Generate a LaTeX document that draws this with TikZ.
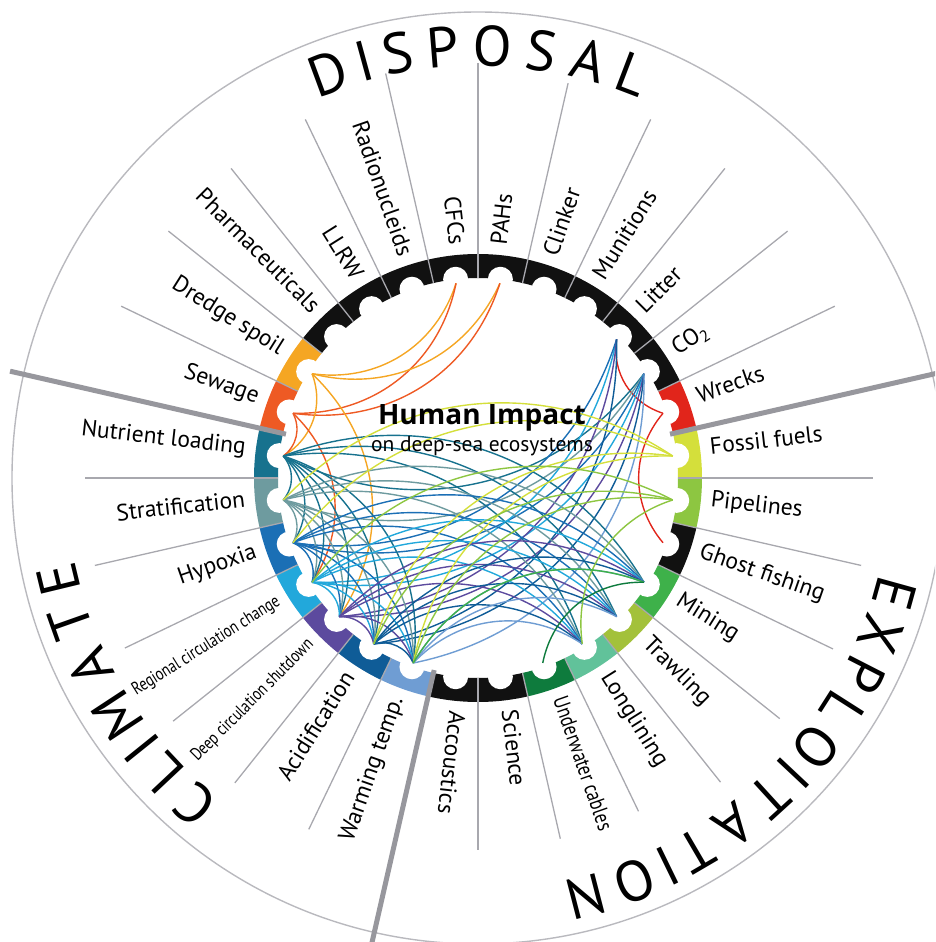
\documentclass[tikz,border=0pt]{standalone}
\usepackage{fontspec}
\setmainfont{PT Sans}
\newfontfamily\narrowfont[FakeStretch=0.8]{PT Sans}
\newfontfamily\titlefont{Open Sans}
\usetikzlibrary{calc}

\definecolor{fossil}{HTML}{D4DF3B}
\definecolor{wreck}{HTML}{E1251B}
\definecolor{dredge}{HTML}{F5A623}
\definecolor{sewage}{HTML}{EE5A24}
\definecolor{nutrient}{HTML}{17728E}
\definecolor{strat}{HTML}{6E9B9F}
\definecolor{hypoxia}{HTML}{1B6FB5}
\definecolor{regional}{HTML}{22A8DB}
\definecolor{deep}{HTML}{5C4A9E}
\definecolor{acid}{HTML}{0F5C97}
\definecolor{warming}{HTML}{6F9DD3}
\definecolor{cables}{HTML}{0E7B3D}
\definecolor{longline}{HTML}{61C29A}
\definecolor{trawl}{HTML}{A3C13B}
\definecolor{mining}{HTML}{3EB14A}
\definecolor{pipe}{HTML}{8DC641}
\definecolor{ringblack}{HTML}{111111}
\definecolor{spokegray}{HTML}{A8A8AE}

\newcommand\narrowtxt[2][18]{{\narrowfont\fontsize{#1}{#1}\selectfont #2}}

\begin{document}
\begin{tikzpicture}[x=1pt, y=1pt,
  spoke/.style={draw=spokegray, line width=1.3pt},
  divider/.style={draw=spokegray!90!black, line width=5pt},
  itemtxt/.style={font=\fontsize{23.5}{26}\selectfont, inner sep=0pt},
  bigtxt/.style={font=\fontsize{57}{60}\selectfont, inner sep=0pt, anchor=base},
  link/.style={line width=1.4pt}]
  \useasboundingbox (-478,-464) rectangle (457,478);
  \clip (-478,-464) rectangle (457,478);
  \def\segw{12.857143}
  \def\rin{200}
  \def\rout{224}
  \coordinate (O) at (0,0);

  % outer circle
  \draw[spokegray!80, line width=1.4pt] (O) circle[radius=466];

  % coloured ring, one sector per impact
  \foreach \col [count=\i from 0] in {fossil,wreck,ringblack,ringblack,ringblack,ringblack,ringblack,ringblack,ringblack,ringblack,ringblack,dredge,sewage,nutrient,strat,hypoxia,regional,deep,acid,warming,ringblack,ringblack,cables,longline,trawl,mining,ringblack,pipe}
    \fill[\col] ({\i*\segw}:\rin) arc[start angle={\i*\segw}, end angle={(\i+1)*\segw}, radius=\rin]
      -- ({(\i+1)*\segw}:\rout) arc[start angle={(\i+1)*\segw}, end angle={\i*\segw}, radius=\rout] -- cycle;
  \foreach \i in {0,...,27} {
    \fill[white] ({(\i+.5)*\segw}:\rin) circle[radius=12.5];
    \coordinate (p\i) at ({(\i+.5)*\segw}:196);
  }

  % spokes and sector dividers
  \foreach \k/\r in {0/395,2/396,3/396,4/396,5/398,6/405,7/415,8/415,9/398,10/396,11/396,12/396,14/393,15/393,16/392,17/390,18/390,19/390,21/372,22/370,23/370,24/389,25/386,26/394,27/393}
    \draw[spoke] ({\k*\segw}:\rin) -- ({\k*\segw}:\r);
  \foreach \k in {1,13,20}
    \draw[divider] ({\k*\segw}:197) -- ({\k*\segw}:480);

  % links
  \foreach \a/\b/\col in {7/11/dredge,7/12/sewage,6/11/dredge,6/12/sewage,11/13/dredge,12/13/sewage,11/17/dredge,12/16/sewage,
    1/3/wreck,26/1/wreck,
    2/13/nutrient,2/14/strat,2/15/hypoxia,2/16/regional,2/17/deep,2/18/acid,2/19/warming,3/16/regional,3/15/hypoxia,3/17/deep,3/18/acid,
    13/14/nutrient,13/15/nutrient,13/16/nutrient,13/17/nutrient,13/18/nutrient,13/19/nutrient,
    14/15/strat,14/16/strat,14/17/strat,14/18/strat,14/19/strat,15/16/hypoxia,15/17/hypoxia,15/18/hypoxia,15/19/hypoxia,
    16/17/regional,16/18/regional,16/19/regional,17/18/deep,17/19/deep,18/19/acid,
    13/23/nutrient,13/24/nutrient,13/25/nutrient,14/23/strat,14/24/strat,14/25/strat,
    15/23/hypoxia,15/24/hypoxia,15/25/hypoxia,16/23/regional,16/24/regional,16/25/regional,
    17/23/deep,17/24/deep,17/25/deep,18/23/acid,18/24/acid,18/25/acid,19/23/warming,19/24/warming,19/25/warming,
    15/0/fossil,14/0/fossil,18/0/fossil,19/0/fossil,19/27/pipe,18/27/pipe,16/27/pipe,23/27/pipe,19/25/mining,22/25/cables}
    \draw[link, \col] (p\a) to[bend left=40] (p\b);

  % title
  \node[anchor=base, font=\titlefont\fontsize{28}{30}\selectfont\bfseries] (title) at (4,53) {Human Impact};
  \node[anchor=base, font=\fontsize{21.5}{23}\selectfont] (subtitle) at (4,26) {on deep-sea ecosystems};

  % impact labels
  \foreach \i/\txt in {0/Fossil fuels,1/Wrecks,2/CO\textsubscript{2},3/Litter,4/Munitions,5/Clinker,6/PAHs,20/Accoustics,21/Science,22/\narrowtxt[22]{Underwater cables},23/Longlining,24/Trawling,25/Mining,26/Ghost fishing,27/Pipelines}
    \node[itemtxt, anchor=mid west, rotate={(\i+.5)*\segw}] (l\i) at ({(\i+.5)*\segw}:234) {\txt};
  \foreach \i/\txt in {7/CFCs,8/Radionucleids,9/LLRW,10/Pharmaceuticals,11/Dredge spoil,12/Sewage,13/Nutrient loading,14/Stratification,15/Hypoxia,16/\narrowtxt{Regional circulation change},17/\narrowtxt{Deep circulation shutdown},18/Acidification,19/Warming temp.}
    \node[itemtxt, anchor=mid east, rotate={(\i+.5)*\segw-180}] (l\i) at ({(\i+.5)*\segw}:234) {\txt};

  % sector names
  \foreach \a/\ch [count=\n] in {110.3/D,105.3/I,100.7/S,94.7/P,88.1/O,81.6/S,75.2/A,69.1/L}
    \node[bigtxt, rotate=\a-90] (dis\n) at (\a:412) {\ch};
  \foreach \a/\ch [count=\n] in {229.1/C,223.2/L,218.8/I,213.3/M,206.0/A,199.5/T,193.6/E}
    \node[bigtxt, rotate=\a-90] (cli\n) at (\a:412) {\ch};
  \foreach \a/\ch [count=\n] in {-15.5/E,-21.2/X,-27.1/P,-32.5/L,-38.5/O,-43.2/I,-47.6/T,-53.6/A,-59.7/T,-64.0/I,-68.8/O,-75.5/N}
    \node[bigtxt, rotate=\a-90] (exp\n) at (\a:412) {\ch};
\end{tikzpicture}
\end{document}
